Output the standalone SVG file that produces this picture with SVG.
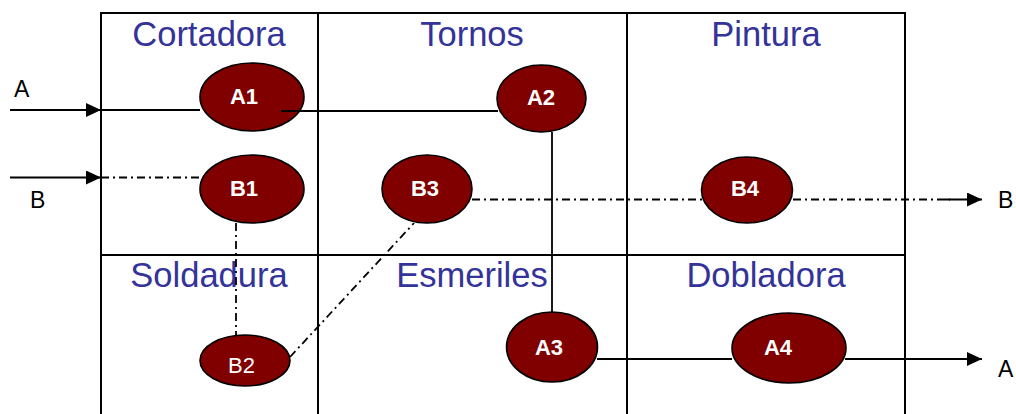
<svg xmlns="http://www.w3.org/2000/svg" width="1016" height="414" viewBox="0 0 1016 414">
  <style>
    .grid { stroke: #000; stroke-width: 2; fill: none; }
    .area { font-family: "Liberation Sans", Arial, sans-serif; font-size: 34.5px; fill: #333399; text-anchor: middle; }
    .node ellipse { fill: #800000; stroke: #000; stroke-width: 1.6; }
    .node text { font-family: "Liberation Sans", Arial, sans-serif; font-size: 22px; font-weight: bold; fill: #fff; text-anchor: middle; }
    .node text.plain { font-weight: normal; }
    .flow { stroke: #000; stroke-width: 1.8; fill: none; }
    .dashdot { stroke-dasharray: 8 4 2 4; }
    .io { font-family: "Liberation Sans", Arial, sans-serif; font-size: 23px; fill: #000; }
  </style>
  <defs>
    <marker id="arrow" markerUnits="userSpaceOnUse" markerWidth="16" markerHeight="14" refX="15" refY="7" orient="auto">
      <path d="M0,0 L15,7 L0,14 z" fill="#000"/>
    </marker>
  </defs>

  <rect width="1016" height="414" fill="#fff"/>

  <!-- plant layout grid -->
  <g id="grid">
    <path class="grid" d="M101,414 V13 H905 V414 M318,13 V414 M627,13 V414 M101,255 H905"/>
  </g>

  <!-- work areas -->
  <g id="areas">
    <text class="area" x="209" y="46">Cortadora</text>
    <text class="area" x="472" y="46">Tornos</text>
    <text class="area" x="766" y="46">Pintura</text>
    <text class="area" x="209" y="287">Soldadura</text>
    <text class="area" x="472" y="287">Esmeriles</text>
    <text class="area" x="766" y="287">Dobladora</text>
  </g>

  <!-- operations -->
  <g id="A1" class="node">
    <ellipse cx="252" cy="97" rx="52" ry="34"/>
    <text x="244" y="104">A1</text>
  </g>
  <g id="A2" class="node">
    <ellipse cx="541.5" cy="98.5" rx="44.5" ry="33.5"/>
    <text x="541" y="105">A2</text>
  </g>
  <g id="A3" class="node">
    <ellipse cx="552" cy="347" rx="45.5" ry="35"/>
    <text x="549" y="355">A3</text>
  </g>
  <g id="A4" class="node">
    <ellipse cx="789" cy="348" rx="57" ry="35"/>
    <text x="778" y="355">A4</text>
  </g>
  <g id="B1" class="node">
    <ellipse cx="252" cy="189" rx="52" ry="34"/>
    <text x="244" y="196">B1</text>
  </g>
  <g id="B2" class="node">
    <ellipse cx="245" cy="360.5" rx="45" ry="25.5"/>
    <text class="plain" x="241.5" y="373">B2</text>
  </g>
  <g id="B3" class="node">
    <ellipse cx="427" cy="189" rx="45" ry="34"/>
    <text x="425" y="196">B3</text>
  </g>
  <g id="B4" class="node">
    <ellipse cx="747" cy="190" rx="45.5" ry="33"/>
    <text x="745" y="196">B4</text>
  </g>

  <!-- material flows -->
  <g id="connectors">
    <!-- product A -->
    <path class="flow" d="M10,110 H101" marker-end="url(#arrow)"/>
    <path class="flow" d="M101,110 H200"/>
    <path class="flow" d="M281,111 H498"/>
    <path class="flow" d="M552,132 V312"/>
    <path class="flow" d="M597,359 H732"/>
    <path class="flow" d="M845,359 H982" marker-end="url(#arrow)"/>
    <!-- product B -->
    <path class="flow" d="M10,177.5 H101" marker-end="url(#arrow)"/>
    <path class="flow dashdot" d="M101,177.5 H200"/>
    <path class="flow dashdot" d="M236,223 V335"/>
    <path class="flow dashdot" d="M290,357 L414,223"/>
    <path class="flow dashdot" d="M472,199.5 H702"/>
    <path class="flow dashdot" d="M793,199.5 H950"/>
    <path class="flow" d="M945,199.5 H982" marker-end="url(#arrow)"/>
  </g>

  <!-- inputs and outputs -->
  <g id="io-labels">
    <text class="io" x="14" y="97">A</text>
    <text class="io" x="30" y="208">B</text>
    <text class="io" x="998" y="208">B</text>
    <text class="io" x="998" y="377">A</text>
  </g>
</svg>
